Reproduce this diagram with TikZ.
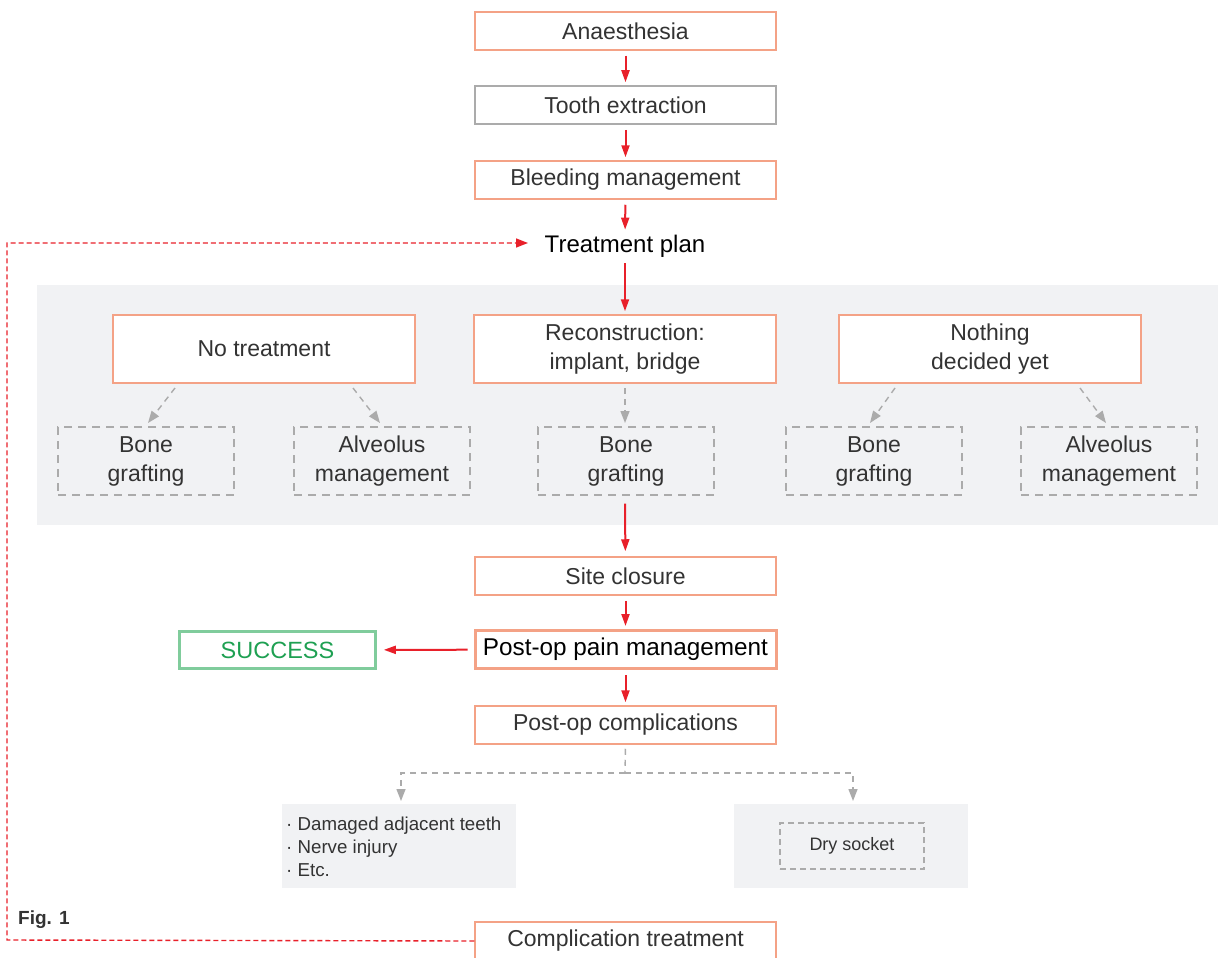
\documentclass[tikz,border=0pt]{standalone}
\usepackage{fontspec}
\setmainfont{Liberation Sans}
\usetikzlibrary{arrows.meta}
\definecolor{boxor}{HTML}{F4A286}
\definecolor{redar}{HTML}{E8202A}
\definecolor{grdash}{HTML}{ABABAB}
\definecolor{panel}{HTML}{F1F2F4}
\definecolor{txt}{HTML}{333333}
\definecolor{grn}{HTML}{1EA052}
\definecolor{grnb}{HTML}{80CC9C}
\tikzset{
  orbox/.style={draw=boxor, line width=1.5pt, fill=white, minimum width=301pt, minimum height=38pt, inner sep=0pt, text=txt, font=\fontsize{23}{27}\selectfont},
  midbox/.style={draw=boxor, line width=1.5pt, fill=white, minimum width=302pt, minimum height=68pt, inner sep=0pt, text=txt, align=center, font=\fontsize{23}{29}\selectfont},
  dbox/.style={draw=grdash, line width=1.3pt, dash pattern=on 8pt off 6pt, minimum width=176pt, minimum height=68pt, inner sep=0pt, text=txt, align=center, font=\fontsize{23}{29}\selectfont},
  redarrow/.style={draw=redar, line width=2pt, -{Triangle[length=12pt,width=8pt]}},
  grayarrow/.style={draw=grdash, line width=1.4pt, dash pattern=on 6pt off 5pt, -{Triangle[length=12pt,width=9pt]}},
}
\begin{document}
\begin{tikzpicture}[x=1pt,y=-1pt]
\useasboundingbox (0,0) rectangle (1218,958);
\clip (0,0) rectangle (1218,958);
% panels
\fill[panel] (37,285) rectangle (1218,525);
\fill[panel] (282,804) rectangle (516,888);
\fill[panel] (734,804) rectangle (968,888);
% top chain
\node[orbox] (ana) at (625.5,31) {Anaesthesia};
\node[orbox, draw=grdash] (tooth) at (625.5,105) {Tooth extraction};
\node[orbox] (bleed) at (625.5,180) {Bleeding management};
\node[text=black, font=\fontsize{24}{28}\selectfont, inner sep=2pt] (plan) at (625,246) {Treatment plan};
% middle options
\node[midbox] (none) at (264,349) {No treatment};
\node[midbox] (recon) at (625,349) {Reconstruction:\\implant, bridge};
\node[midbox] (nyet) at (990,349) {Nothing\\decided yet};
\node[dbox] (bg1) at (146,461) {Bone\\grafting};
\node[dbox] (am1) at (382,461) {Alveolus\\management};
\node[dbox] (bg2) at (626,461) {Bone\\grafting};
\node[dbox] (bg3) at (874,461) {Bone\\grafting};
\node[dbox] (am2) at (1109,461) {Alveolus\\management};
% lower chain
\node[orbox] (site) at (625.5,576) {Site closure};
\node[orbox, line width=3pt, text=black, font=\fontsize{24.3}{28}\selectfont] (pain) at (625.5,649.5) {Post-op pain management};
\node[draw=grnb, line width=2.6pt, minimum width=196pt, minimum height=37pt, inner sep=0pt, text=grn, font=\fontsize{23.5}{27}\selectfont] (succ) at (277.5,650) {SUCCESS};
\node[orbox] (comp) at (625.5,725) {Post-op complications};
\node[orbox] (ctreat) at (625.5,941) {Complication treatment};
% bottom panel contents
\node[text=txt, align=left, anchor=north west, inner sep=0pt, font=\fontsize{18.7}{23}\selectfont] (list) at (286,817) {· Damaged adjacent teeth\\· Nerve injury\\· Etc.};
\node[draw=grdash, line width=1.3pt, dash pattern=on 6pt off 4pt, minimum width=144pt, minimum height=46pt, inner sep=0pt, text=txt, font=\fontsize{18}{21}\selectfont] (dry) at (852,846) {Dry socket};
\node[anchor=west, inner sep=0pt, font=\bfseries\fontsize{19}{22}\selectfont, text=txt] (fig) at (18,920) {Fig. 1};
% coordinates
\coordinate (p1s) at (175,388); \coordinate (p1e) at (148,423);
\coordinate (p2s) at (353,388); \coordinate (p2e) at (380,423);
\coordinate (p3s) at (625,388); \coordinate (p3e) at (625,423);
\coordinate (p4s) at (895,388); \coordinate (p4e) at (870,423);
\coordinate (p5s) at (1080,388); \coordinate (p5e) at (1106,423);
\coordinate (bra) at (625,773);
\coordinate (brl) at (401,773);
\coordinate (brr) at (853,773);
\coordinate (brld) at (401,801);
\coordinate (brrd) at (853,801);
\coordinate (lpa) at (7,940);
\coordinate (lpb) at (7,243);
\coordinate (lpe) at (528,243);
% red arrows
\draw[redarrow, shorten <=5pt, shorten >=3pt] (ana) -- (tooth);
\draw[redarrow, shorten <=5pt, shorten >=3pt] (tooth) -- (bleed);
\draw[redarrow, shorten <=5pt, shorten >=3pt] (bleed) -- (plan);
\draw[redarrow, shorten <=4pt, shorten >=3pt] (plan) -- (recon);
\draw[redarrow, shorten <=8pt, shorten >=5pt] (bg2.south -| recon.south) -- (site);
\draw[redarrow, shorten <=5pt, shorten >=3pt] (site) -- (pain);
\draw[redarrow, shorten <=5pt, shorten >=3pt] (pain) -- (comp);
\draw[redarrow, shorten <=6pt, shorten >=7pt] (pain) -- (succ);
% gray dashed arrows
\draw[grayarrow] (p1s) -- (p1e);
\draw[grayarrow] (p2s) -- (p2e);
\draw[grayarrow] (p3s) -- (p3e);
\draw[grayarrow] (p4s) -- (p4e);
\draw[grayarrow] (p5s) -- (p5e);
\draw[draw=grdash, line width=1.4pt, dash pattern=on 6pt off 5pt, shorten <=4pt] (comp.south) -- (bra);
\draw[grayarrow] (bra) -- (brl) -- (brld);
\draw[grayarrow] (bra) -- (brr) -- (brrd);
% feedback loop
\draw[draw=redar, line width=1.4pt, dash pattern=on 5pt off 3pt, -{Triangle[length=12pt,width=9pt]}] (ctreat.west) -- (lpa) -- (lpb) -- (lpe);
\end{tikzpicture}
\end{document}
